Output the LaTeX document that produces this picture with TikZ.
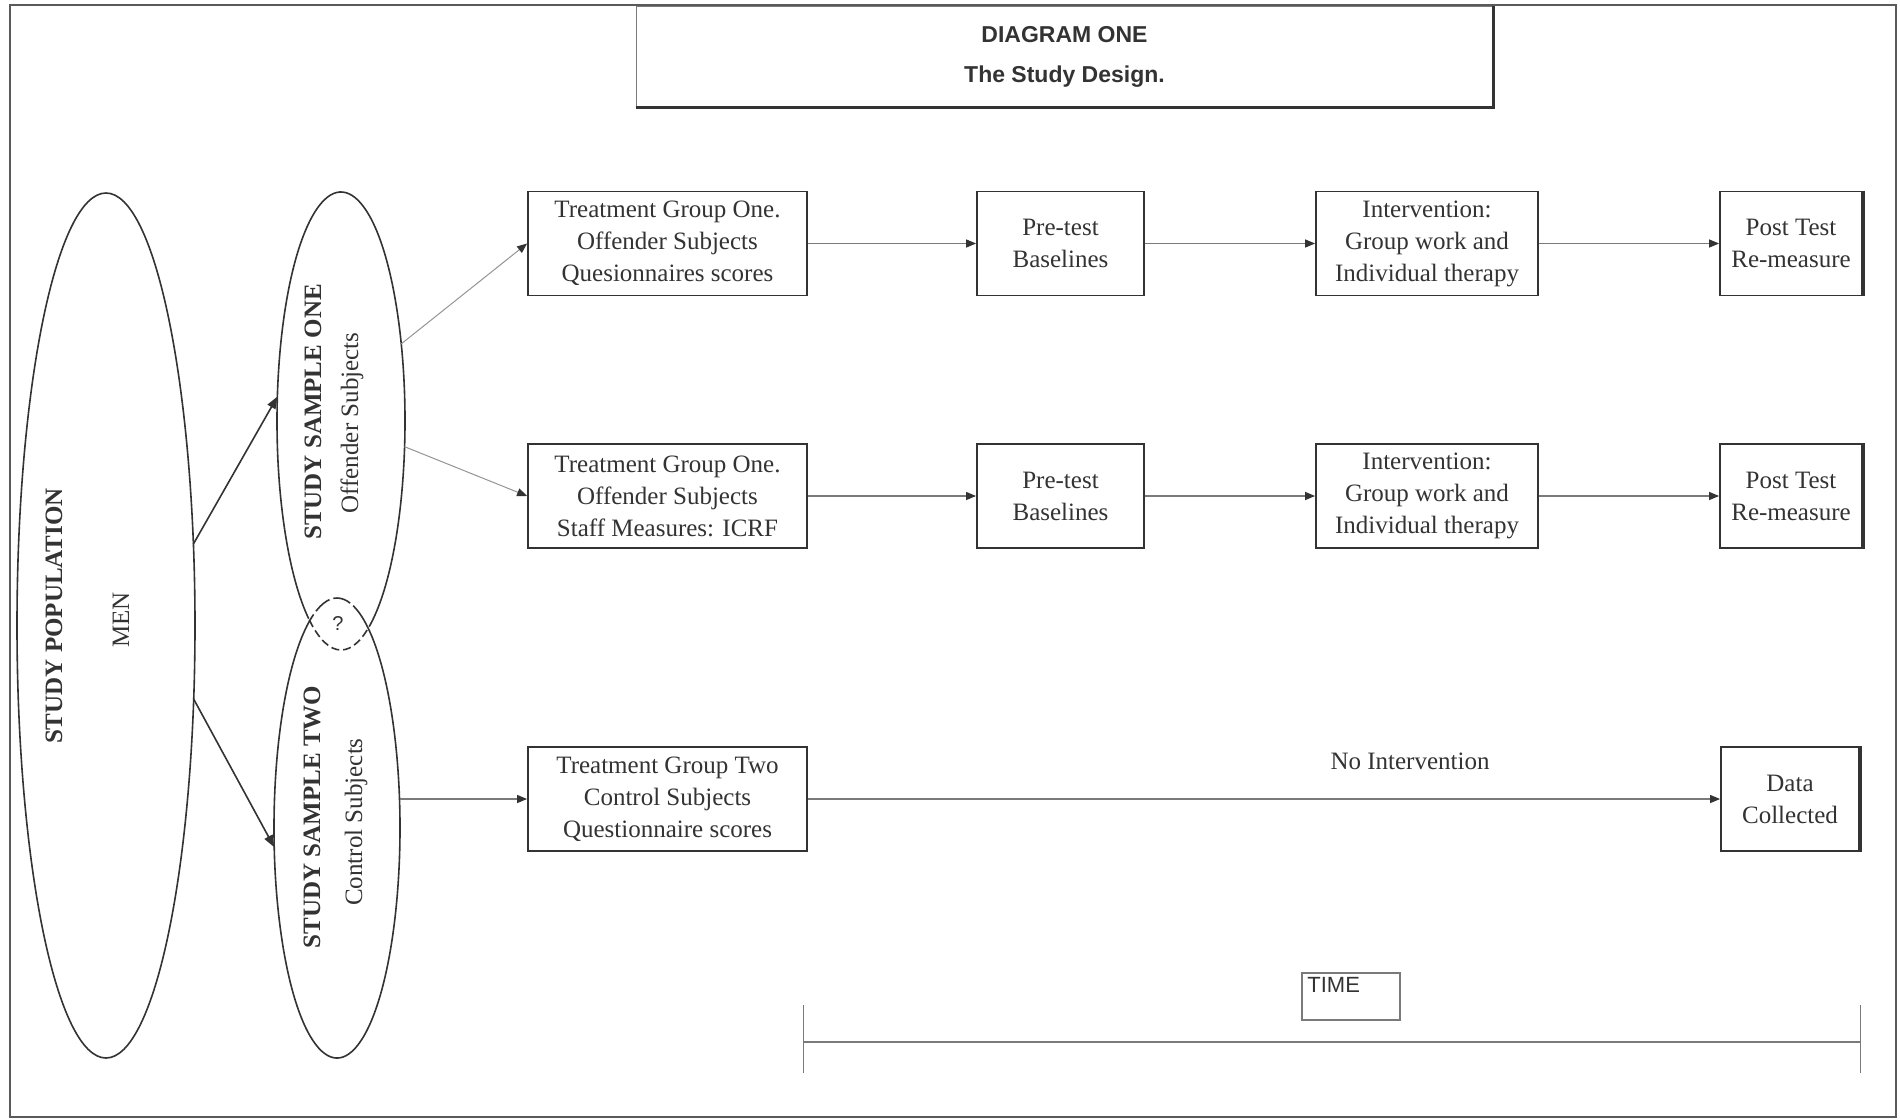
\documentclass[tikz,border=0pt]{standalone}
\usepackage{fontspec}
\setmainfont{Liberation Serif}
\newfontfamily\sansfam{Liberation Sans}
\usetikzlibrary{shapes.geometric,arrows.meta}
\definecolor{ink}{HTML}{333333}
\definecolor{lgray}{HTML}{7A7A7A}
\definecolor{mgray}{HTML}{5A5A5A}
\begin{document}
\begin{tikzpicture}[x=0.5pt,y=-0.5pt,
  every node/.style={text=ink},
  txt/.style={font=\fontsize{12.5}{16}\selectfont},
  boxnode/.style={draw=ink, line width=0.9pt, rectangle, align=center, inner sep=0pt,
    minimum height=52pt, font=\fontsize{12.5}{16}\selectfont},
  ellnode/.style={ellipse, inner sep=0pt, outer sep=0pt},
  ellline/.style={draw=ink, line width=0.8pt},
  rotlbl/.style={rotate=90, inner sep=0pt, font=\fontsize{12.5}{15}\selectfont},
  flow/.style={draw=lgray, line width=0.6pt, -{Triangle[length=5pt,width=4pt,color=ink]}},
  split/.style={draw=ink, line width=0.8pt, -{Triangle[length=6pt,width=4.5pt,color=ink]}},
  branch/.style={draw=lgray!80, line width=0.5pt, -{Triangle[length=5pt,width=4pt,color=ink]}},
  shadowedge/.style={draw=ink, line width=1.8pt}
]
\useasboundingbox (0,0) rectangle (1900,1119);
\fill[white] (0,0) rectangle (1900,1119);

% outer frame
\draw[draw=mgray, line width=1.2pt] (10,5) rectangle (1896,1117);

% title
\node[draw=lgray, line width=0.5pt, minimum width=428.5pt, minimum height=50.5pt, inner sep=0pt,
  align=center, font=\sansfam\bfseries\fontsize{11.5}{20}\selectfont] (title) at (1064.5,56.5)
  {DIAGRAM ONE\\The Study Design.};
\draw[shadowedge] (title.south west) -- (title.south east) -- (title.north east);

% ellipses
\node[ellnode, draw=ink, line width=0.8pt, minimum width=89pt, minimum height=432.5pt] (pop) at (106,625.5) {};
\node[ellnode, minimum width=64pt, minimum height=229pt] (sone) at (341,421) {};
\node[ellnode, minimum width=63pt, minimum height=230pt] (stwo) at (337,828) {};

\draw[ellline] ([shift={(-60.3:32pt and 114.5pt)}]sone.center)
  arc[start angle=-60.3, end angle=239.7, x radius=32pt, y radius=114.5pt];
\draw[ellline, dash pattern=on 4pt off 2pt] ([shift={(-119.7:32pt and 114.5pt)}]sone.center)
  arc[start angle=-119.7, end angle=-60.3, x radius=32pt, y radius=114.5pt];
\draw[ellline] ([shift={(115.3:31.5pt and 115pt)}]stwo.center)
  arc[start angle=115.3, end angle=424.7, x radius=31.5pt, y radius=115pt];
\draw[ellline, dash pattern=on 9pt off 2pt] ([shift={(64.7:31.5pt and 115pt)}]stwo.center)
  arc[start angle=64.7, end angle=115.3, x radius=31.5pt, y radius=115pt];

\node[inner sep=0pt, font=\sansfam\fontsize{10}{12}\selectfont] (qmark) at (338,624) {?};

% ellipse labels
\node[rotlbl, font=\bfseries\fontsize{12.5}{15}\selectfont] (popa) at (54,616) {STUDY POPULATION};
\node[rotlbl] (popb) at (121,620) {MEN};
\node[rotlbl, font=\bfseries\fontsize{12.5}{15}\selectfont] (sonea) at (313,412) {STUDY SAMPLE ONE};
\node[rotlbl] (soneb) at (352,423) {Offender Subjects};
\node[rotlbl, font=\bfseries\fontsize{12.5}{15}\selectfont] (stwoa) at (312,817) {STUDY SAMPLE TWO};
\node[rotlbl] (stwob) at (356,822) {Control Subjects};

% row 1
\node[boxnode, minimum width=139.5pt] (tgA) at (667.5,243.5) {Treatment Group One.\\Offender Subjects\\Quesionnaires scores};
\node[boxnode, minimum width=83.5pt] (preA) at (1060.5,243.5) {Pre-test\\Baselines};
\node[boxnode, minimum width=111pt] (intA) at (1427,243.5) {Intervention:\\Group work and\\Individual therapy};
\node[boxnode, minimum width=71pt] (postA) at (1791,243.5) {Post Test\\Re-measure};

% row 2
\node[boxnode, minimum width=139.5pt] (tgB) at (667.5,496) {Treatment Group One.\\Offender Subjects\\Staff Measures: ICRF};
\node[boxnode, minimum width=83.5pt] (preB) at (1060.5,496) {Pre-test\\Baselines};
\node[boxnode, minimum width=111pt] (intB) at (1427,496) {Intervention:\\Group work and\\Individual therapy};
\node[boxnode, minimum width=71pt] (postB) at (1791,496) {Post Test\\Re-measure};

% row 3
\node[boxnode, minimum width=139.5pt] (tgC) at (667.5,799) {Treatment Group Two\\Control Subjects\\Questionnaire scores};
\node[boxnode, minimum width=69pt] (data) at (1790,799) {Data\\Collected};
\node[txt] (noint) at (1410,761) {No Intervention};

\draw[shadowedge] (postA.north east) -- (postA.south east);
\draw[shadowedge] (postB.north east) -- (postB.south east);
\draw[shadowedge] (data.north east) -- (data.south east);

% connectors
\draw[split] (pop.43) -- (sone.159.4);
\draw[split] (pop.-40) -- (stwo.197);
\draw[branch] (sone.52) -- (tgA.west);
\draw[branch] (sone.-22) -- (tgB.west);
\draw[flow] (tgC.west -| stwo.east) -- (tgC.west);

\draw[flow] (tgA) -- (preA);
\draw[flow] (preA) -- (intA);
\draw[flow] (intA) -- (postA);
\draw[flow] (tgB) -- (preB);
\draw[flow] (preB) -- (intB);
\draw[flow] (intB) -- (postB);
\draw[flow] (tgC) -- (data);

% time axis
\node[draw=lgray, line width=0.6pt, minimum width=49pt, minimum height=23.5pt, inner sep=0pt] (timebox) at (1351,996.5) {};
\node[anchor=north west, inner sep=0pt, font=\sansfam\fontsize{11}{13}\selectfont] (timelbl) at (1307,977) {TIME};
\coordinate (tleft) at (803,1042);
\coordinate (tright) at (1860,1042);
\draw[draw=lgray, line width=0.8pt] (tleft) -- (tright);
\draw[draw=lgray, line width=0.5pt] (803,1005) -- (803,1073);
\draw[draw=lgray, line width=0.5pt] (1860,1005) -- (1860,1073);
\end{tikzpicture}
\end{document}
